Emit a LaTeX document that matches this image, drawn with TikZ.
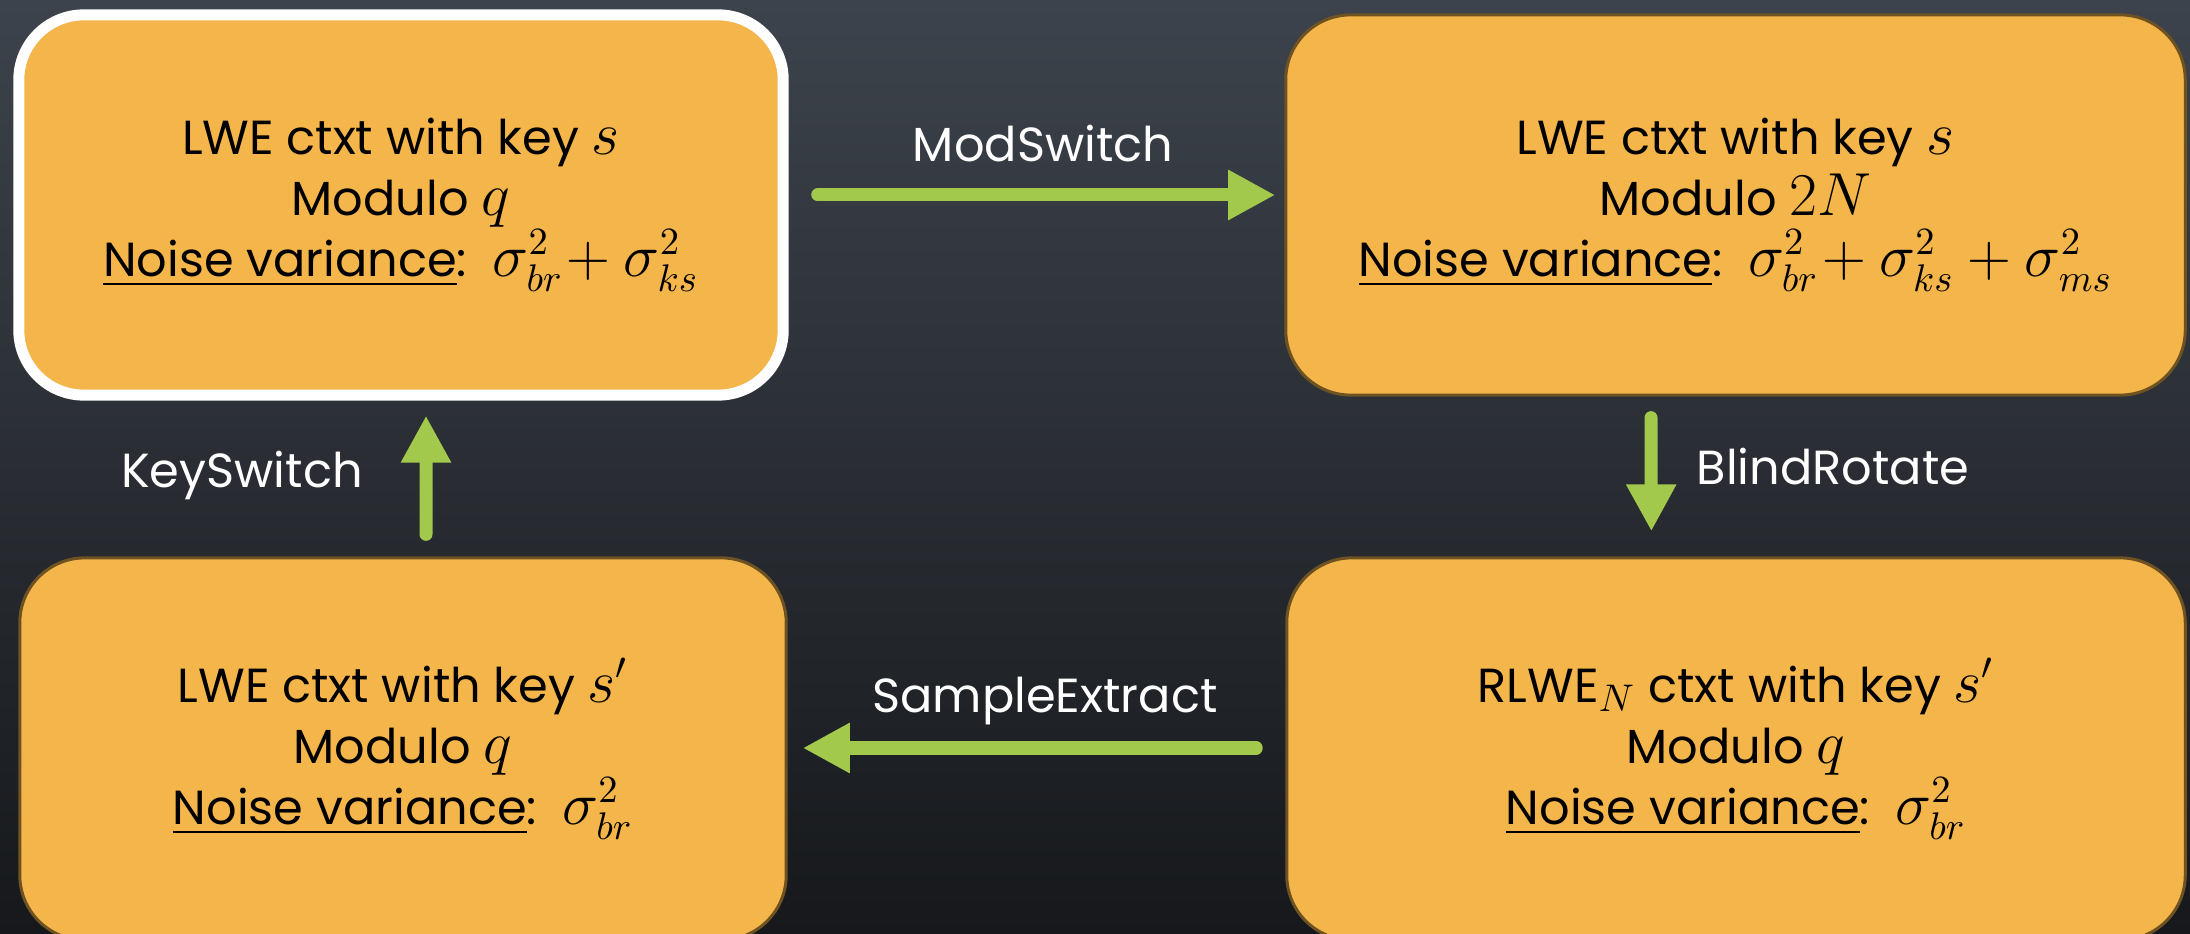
\documentclass[tikz,border=0pt]{standalone}
\usepackage{amsmath}
\usepackage{fontspec}
\setmainfont{Poppins}
\usepackage{tikz}
\usetikzlibrary{arrows.meta}

\definecolor{boxfill}{HTML}{F4B54A}
\definecolor{boxline}{HTML}{6E5222}
\definecolor{flowgreen}{HTML}{A2C84C}
\definecolor{bgtop}{HTML}{3D434C}
\definecolor{bgmid}{HTML}{292D32}
\definecolor{bgbot}{HTML}{16181B}

\newcommand{\noisevar}{\underline{Noise variance}:~~}
\newcommand{\mth}[1]{{\fontsize{16pt}{17pt}\selectfont$#1$}}

\begin{document}
\begin{tikzpicture}[x=0.01cm,y=-0.01cm]
		\useasboundingbox (0,0) rectangle (2190,934);
		\shade[top color=bgtop, middle color=bgmid, bottom color=bgbot] (0,0) rectangle (2190,934);

		\begin{scope}[every node/.style={rectangle,rounded corners=0.65cm,fill=boxfill,draw=boxline,
		              line width=0.03cm,align=center,minimum height=3.8cm,
		              font=\fontsize{13.6pt}{17.4pt}\selectfont}]
		    \node[draw=white,line width=0.11cm,minimum width=7.64cm] (tl) at (401,205)
		        {LWE ctxt with key \mth{s}\\ Modulo \mth{q}\\ \noisevar\mth{\sigma_{br}^2\!+\sigma_{ks}^2}};
		    \node[minimum width=8.99cm] (tr) at (1735.5,205)
		        {LWE ctxt with key \mth{s}\\ Modulo \mth{2N}\\ \noisevar\mth{\sigma_{br}^2\!+\sigma_{ks}^2+\sigma_{ms}^2}};
		    \node[minimum width=7.66cm,minimum height=3.82cm] (bl) at (403,749)
		        {LWE ctxt with key \mth{s'}\\ Modulo \mth{q}\\ \noisevar\mth{\sigma_{br}^2}};
		    \node[minimum width=8.98cm,minimum height=3.82cm] (br) at (1736,749)
		        {RLWE\mth{{}_N} ctxt with key \mth{s'}\\ Modulo \mth{q}\\ \noisevar\mth{\sigma_{br}^2}};
		\end{scope}

		\begin{scope}[every node/.style={text=white,anchor=base,font=\fontsize{13.6pt}{16pt}\selectfont}]
		    \node (modsw) at (1043,162) {ModSwitch};
		    \node (blind) at (1833,485) {BlindRotate};
		    \node (sample) at (1045,713) {SampleExtract};
		    \node (keysw) at (242,488) {KeySwitch};
		\end{scope}

		\begin{scope}[>={Triangle[length=0.47cm,width=0.47cm]},
		              every edge/.style={draw=flowgreen,line width=0.13cm,line cap=round,->}]
		    \path ([yshift=0.1cm]tl.east) edge[shorten <=0.29cm,shorten >=0.09cm] ([yshift=0.1cm]tr.west);
		    \path ([xshift=-0.845cm]tr.south) edge[shorten <=0.21cm,shorten >=0.25cm] ([xshift=-0.845cm]br.north);
		    \path ([yshift=0.01cm]br.west) edge[shorten <=0.29cm,shorten >=0.15cm] ([yshift=0.01cm]bl.east);
		    \path ([xshift=0.23cm]bl.north) edge[shorten <=0.22cm,shorten >=0.15cm] ([xshift=0.25cm]tl.south);
		\end{scope}
\end{tikzpicture}
\end{document}
